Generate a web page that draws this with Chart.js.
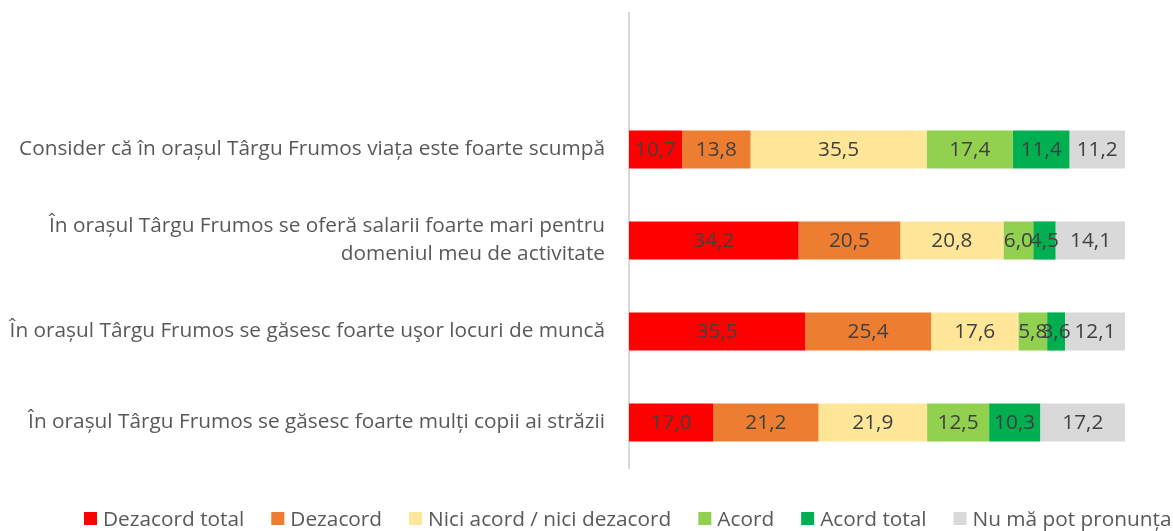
<!DOCTYPE html>
<html>
<head>
<meta charset="utf-8">
<script src="https://cdn.jsdelivr.net/npm/chart.js@4/dist/chart.umd.min.js"></script>
<style>
  html, body { margin: 0; padding: 0; background: #fff; }
  #wrap { width: 1173px; height: 531px; }
</style>
</head>
<body>
<div id="wrap"><canvas id="myChart"></canvas></div>
<script>
// first category is left empty, like the spare slot on top of the plot
const categories = [
  '',
  'Consider că în orașul Târgu Frumos viața este foarte scumpă',
  ['În orașul Târgu Frumos se oferă salarii foarte mari pentru', 'domeniul meu de activitate'],
  'În orașul Târgu Frumos se găsesc foarte uşor locuri de muncă',
  'În orașul Târgu Frumos se găsesc foarte mulți copii ai străzii'
];

const seriesNames = ['Dezacord total', 'Dezacord', 'Nici acord / nici dezacord', 'Acord', 'Acord total', 'Nu mă pot pronunța'];
const seriesColors = ['#FF0000', '#ED7D31', '#FFE699', '#92D050', '#00B050', '#D9D9D9'];

const dezacordTotal = [null, 10.7, 34.2, 35.5, 17.0];
const dezacord      = [null, 13.8, 20.5, 25.4, 21.2];
const niciNici      = [null, 35.5, 20.8, 17.6, 21.9];
const acord         = [null, 17.4, 6.0, 5.8, 12.5];
const acordTotal    = [null, 11.4, 4.5, 3.6, 10.3];
const nuMaPronunt   = [null, 11.2, 14.1, 12.1, 17.2];

const seriesValues = [dezacordTotal, dezacord, niciNici, acord, acordTotal, nuMaPronunt];

const FONT = "'Open Sans', sans-serif";
const FSIZE = 20.8;

// writes the value in the middle of every segment, decimal comma
const valueLabels = {
  id: 'valueLabels',
  afterDatasetsDraw(chart) {
    const ctx = chart.ctx;
    ctx.save();
    ctx.font = FSIZE + 'px ' + FONT;
    ctx.fillStyle = '#404040';
    ctx.textAlign = 'center';
    ctx.textBaseline = 'middle';
    chart.data.datasets.forEach((ds, i) => {
      chart.getDatasetMeta(i).data.forEach((bar, j) => {
        const v = ds.data[j];
        if (v == null) return;
        const p = bar.getProps(['x', 'y', 'base'], true);
        ctx.fillText(v.toFixed(1).replace('.', ','), (p.x + p.base) / 2, p.y + 1);
      });
    });
    ctx.restore();
  }
};

// single-row legend under the plot, runs past the right edge instead of wrapping
const rowLegend = {
  id: 'rowLegend',
  afterDraw(chart) {
    const ctx = chart.ctx;
    ctx.save();
    ctx.font = FSIZE + 'px ' + FONT;
    ctx.textBaseline = 'middle';
    ctx.textAlign = 'left';
    let x = 84;
    const y = 519;
    chart.data.datasets.forEach(ds => {
      ctx.fillStyle = ds.backgroundColor;
      ctx.fillRect(x, y - 7, 13, 13);
      x += 19;
      ctx.fillStyle = '#595959';
      ctx.fillText(ds.label, x, y + 1);
      x += ctx.measureText(ds.label).width + 27;
    });
    ctx.restore();
  }
};

const config = {
  type: 'bar',
  data: {
    labels: categories,
    datasets: seriesNames.map((name, i) => ({
      label: name,
      data: seriesValues[i],
      backgroundColor: seriesColors[i],
      borderWidth: 0,
      categoryPercentage: 1,
      barPercentage: 0.42
    }))
  },
  options: {
    indexAxis: 'y',
    animation: false,
    responsive: true,
    maintainAspectRatio: false,
    layout: { padding: { top: 13, right: 48, left: 0, bottom: 63 } },
    scales: {
      x: {
        stacked: true,
        min: 0,
        max: 100,
        display: false
      },
      y: {
        stacked: true,
        grid: { display: false },
        border: { display: true, color: '#D9D9D9', width: 2 },
        ticks: {
          color: '#595959',
          font: { family: FONT, size: FSIZE, lineHeight: 1.35 },
          padding: 16,
          autoSkip: false
        },
        afterFit(scale) {
          scale.width = 629;
          scale.paddingTop = 0;
          scale.paddingBottom = 0;
        }
      }
    },
    plugins: {
      legend: { display: false },
      tooltip: { enabled: false }
    }
  },
  plugins: [valueLabels, rowLegend]
};

let myChart = new Chart(document.getElementById('myChart'), config);
</script>
</body>
</html>
